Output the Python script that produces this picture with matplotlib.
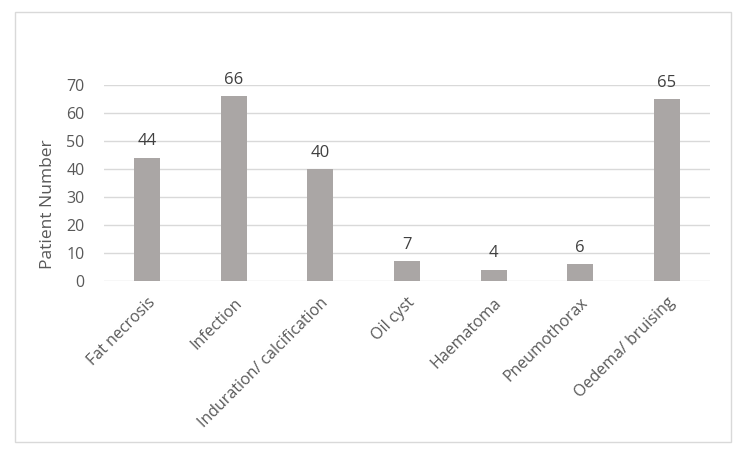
import matplotlib
matplotlib.use('Agg')
import matplotlib.pyplot as plt
from matplotlib.patches import Rectangle

# complication counts
categories = ['Fat necrosis', 'Infection', 'Induration/ calcification', 'Oil cyst',
              'Haematoma', 'Pneumothorax', 'Oedema/ bruising']
patients = [44, 66, 40, 7, 4, 6, 65]
yticks = [0, 10, 20, 30, 40, 50, 60, 70]

text_col = '#595959'
bar_col = '#aaa6a5'
grid_col = '#d9d9d9'

plt.rcParams['font.family'] = ['Open Sans', 'DejaVu Sans']

W, H = 750, 459
fig = plt.figure(figsize=(7.5, 4.59), dpi=100)

# outer chart border
fig.patches.append(Rectangle((15 / W, 1 - 442 / H), 716 / W, 430 / H,
                             transform=fig.transFigure, fill=False,
                             edgecolor=grid_col, linewidth=1.0))

ax = fig.add_axes([104 / W, 1 - 281 / H, 606 / W, 196 / H])
x = list(range(len(categories)))
bars = ax.bar(x, patients, width=0.3, color=bar_col, zorder=3)

ax.set_xlim(-0.5, len(categories) - 0.5)
ax.set_ylim(0, 70)
ax.set_yticks(yticks)
ax.yaxis.grid(True, color=grid_col, linewidth=1.0, zorder=0)
for s in ax.spines.values():
    s.set_visible(False)
ax.tick_params(axis='both', length=0, labelsize=11.5, colors=text_col)
ax.tick_params(axis='y', pad=14)

ax.set_xticks(x)
ax.set_xticklabels(categories, rotation=45, ha='right', rotation_mode='anchor',
                   fontsize=11.5, color=text_col)
ax.tick_params(axis='x', pad=10)

for b, v in zip(bars, patients):
    ax.annotate(str(v), (b.get_x() + b.get_width() / 2, v), xytext=(0, 6),
                textcoords='offset points', ha='center', va='bottom',
                fontsize=12, color='#404040')

ax.set_ylabel('Patient Number', fontsize=12.5, color=text_col)
ax.yaxis.set_label_coords(-0.080, 0.39)

fig.savefig('out.png', dpi=100)
